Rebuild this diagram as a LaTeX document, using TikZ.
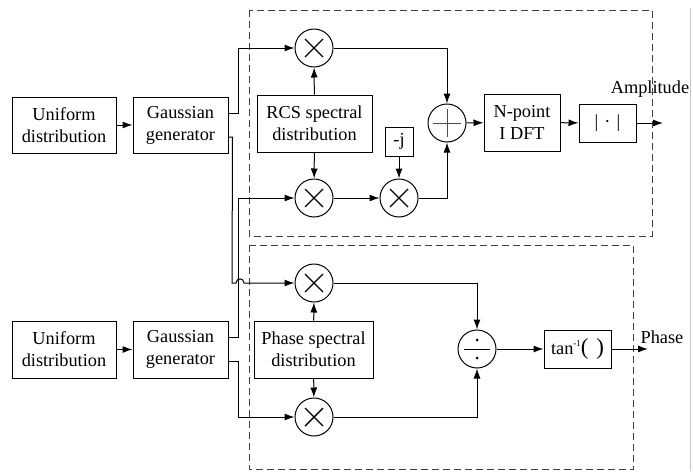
\documentclass[tikz,border=0pt]{standalone}
\usepackage{fontspec}
\setmainfont{Liberation Serif}
\usetikzlibrary{arrows.meta,calc}
\tikzset{
  blk/.style={draw, line width=1pt, inner sep=0pt, align=center, font=\fontsize{18.3}{22}\selectfont},
  opc/.style={draw, circle, line width=1pt, minimum size=38pt, inner sep=0pt},
  mult/.style={opc, path picture={
      \draw[line width=1.4pt] ([shift={(-9pt,-9pt)}]path picture bounding box.center) -- ([shift={(9pt,9pt)}]path picture bounding box.center);
      \draw[line width=1.4pt] ([shift={(-9pt,9pt)}]path picture bounding box.center) -- ([shift={(9pt,-9pt)}]path picture bounding box.center);}},
  summ/.style={opc, path picture={
      \draw[line width=1pt, gray!60!black] ([xshift=-14pt]path picture bounding box.center) -- ([xshift=14pt]path picture bounding box.center);
      \draw[line width=1pt, gray!60!black] ([yshift=-14pt]path picture bounding box.center) -- ([yshift=14pt]path picture bounding box.center);}},
  divv/.style={opc, path picture={
      \draw[line width=1pt] ([xshift=-13pt]path picture bounding box.center) -- ([xshift=13pt]path picture bounding box.center);
      \fill ([yshift=9pt]path picture bounding box.center) circle (1.5pt);
      \fill ([yshift=-9pt]path picture bounding box.center) circle (1.5pt);}},
  arr/.style={line width=1pt, -{Latex[length=10pt,width=7pt]}},
  frame/.style={line width=1pt, dash pattern=on 7pt off 4pt, gray!50!black},
  lbl/.style={font=\fontsize{18.3}{22}\selectfont, inner sep=0pt}
}
\begin{document}
\begin{tikzpicture}[x=1pt,y=-1pt]
\useasboundingbox (0,0) rectangle (693,471);
% dashed frames
\draw[frame] (249,10) rectangle (652,236);
\draw[frame] (249,245) -- (633,245) -- (633,469.5) -- (249,469.5) -- cycle;
\draw[gray!45, line width=0.8pt] (690,8) -- (690,471);

% top chain
\node[blk, minimum width=104pt, minimum height=56pt] (u1) at (64,125) {Uniform\\distribution};
\node[blk, minimum width=95pt, minimum height=56pt] (g1) at (180.5,125) {Gaussian\\generator};
\node[mult] (m1) at (314,48) {};
\node[mult] (m2) at (314,198) {};
\node[blk, minimum width=115pt, minimum height=57pt] (rcs) at (314.5,123.5) {RCS spectral\\distribution};
\node[blk, minimum width=28pt, minimum height=29pt] (jb) at (399,141.5) {-j};
\node[mult] (jm) at (399,198) {};
\node[summ] (sum) at (447,123) {};
\node[blk, minimum width=76pt, minimum height=57pt] (dft) at (522,122.5) {N-point\\I DFT};
\node[blk, minimum width=57pt, minimum height=38pt] (abs) at (607.5,123) {|\,\,·\,\,|};
\coordinate (aout) at (663,123);
\node[lbl] (amp) at (650,89) {Amplitude};

% bottom chain
\node[blk, minimum width=104pt, minimum height=57pt] (u2) at (64,349.5) {Uniform\\distribution};
\node[blk, minimum width=95pt, minimum height=57pt] (g2) at (180.5,349.5) {Gaussian\\generator};
\node[mult] (pm1) at (314,283) {};
\node[mult] (pm2) at (314,417) {};
\node[blk, minimum width=119pt, minimum height=57pt] (phs) at (313.5,349.5) {Phase spectral\\distribution};
\node[divv] (dv) at (477,349) {};
\node[blk, minimum width=67pt, minimum height=38pt] (tan) at (577.5,349) {tan\raisebox{0.45em}{\fontsize{9}{9}\selectfont -1}{\fontsize{23}{23}\selectfont(\,\,)}};
\coordinate (pout) at (648,349);
\node[lbl] (ph) at (662,337) {Phase};

% connectors top
\draw[arr] (u1) -- (g1);
\draw[arr] ([yshift=12pt]g1.east) -- ++(10,0) |- (m1);
\draw[arr] (rcs) -- (m1);
\draw[arr] (rcs) -- (m2);
\draw[arr] (m2) -- (jm);
\draw[arr] (jb) -- (jm);
\draw[arr] (m1) -| (sum);
\draw[arr] (jm) -| (sum);
\draw[arr] (sum) -- (dft);
\draw[arr] (dft) -- (abs);
\draw[arr] (abs) -- (aout);

% cross connections
\draw[arr] ([yshift=-12pt]g1.east) -- ++(4,0) -- (232,283) -- (236,283)
   .. controls (236,277.5) and (244,277.5) .. (244,283) -- (pm1);
\draw[arr] ([yshift=12pt]g2.east) -- ++(10,0) |- (m2);

% connectors bottom
\draw[arr] (u2) -- (g2);
\draw[arr] ([yshift=-12pt]g2.east) -- ++(10,0) |- (pm2);
\draw[arr] (phs) -- (pm1);
\draw[arr] (phs) -- (pm2);
\draw[arr] (pm1) -| (dv);
\draw[arr] (pm2) -| (dv);
\draw[arr] (dv) -- (tan);
\draw[arr] (tan) -- (pout);
\end{tikzpicture}
\end{document}
